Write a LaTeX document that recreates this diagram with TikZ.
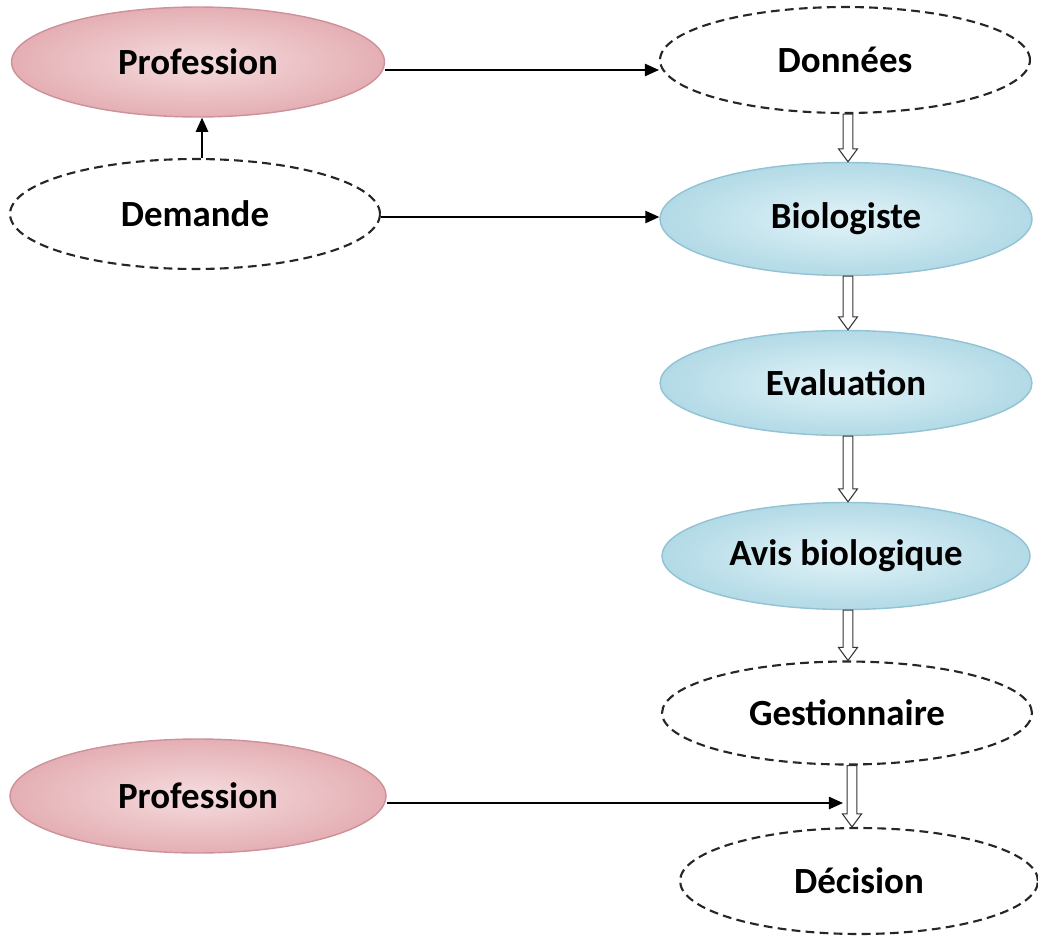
\documentclass[tikz,border=0pt]{standalone}
\usepackage{fontspec}
\setmainfont{Carlito}
\usetikzlibrary{shapes.geometric,arrows.meta,calc}
\definecolor{pinkin}{RGB}{245,220,222}
\definecolor{pinkout}{RGB}{228,175,180}
\definecolor{pinkrim}{RGB}{205,145,152}
\definecolor{bluein}{RGB}{226,243,248}
\definecolor{blueout}{RGB}{178,218,230}
\definecolor{bluerim}{RGB}{145,195,212}
\tikzset{
  lbl/.style={font=\fontsize{21}{24}\selectfont\bfseries, text=black},
  oval/.style={ellipse, inner sep=0pt, lbl},
  pinkoval/.style={oval, inner color=pinkin, outer color=pinkout, draw=pinkrim, line width=0.8pt},
  blueoval/.style={oval, inner color=bluein, outer color=blueout, draw=bluerim, line width=0.8pt},
  dashoval/.style={oval, draw=black!85, line width=1.2pt, dash pattern=on 5pt off 3pt},
  blackarrow/.style={draw=black, line width=0.9pt, -{Triangle[length=8pt,width=7pt]}},
  hollow/.style={draw=black!80, fill=white, line width=0.6pt}
}
% hollow down arrow from point #1 (top) to #2 (bottom y), x taken from #1
\newcommand{\hollowdown}[2]{%
  \path[hollow] let \p1=#1, \p2=#2 in
    ({\x1-0.096cm},\y1) -- ({\x1+0.096cm},\y1) -- ({\x1+0.096cm},{\y2+0.26cm})
    -- ({\x1+0.19cm},{\y2+0.26cm}) -- (\x1,\y2) -- ({\x1-0.19cm},{\y2+0.26cm})
    -- ({\x1-0.096cm},{\y2+0.26cm}) -- cycle;}
\begin{document}
\begin{tikzpicture}[x=0.02cm,y=-0.02cm]
\useasboundingbox (0,0) rectangle (1038,937);
\node[pinkoval, minimum width=7.46cm, minimum height=2.2cm] (prof1) at (198,62) {Profession};
\node[dashoval, minimum width=7.4cm, minimum height=2.12cm] (donn) at (845,60) {Données};
\node[dashoval, minimum width=7.4cm, minimum height=2.2cm] (dem) at (195,214) {Demande};
\node[blueoval, minimum width=7.44cm, minimum height=2.26cm] (bio) at (846,219) {Biologiste};
\node[blueoval, minimum width=7.44cm, minimum height=2.1cm] (eval) at (846,383) {Evaluation};
\node[blueoval, minimum width=7.36cm, minimum height=2.14cm] (avis) at (846,556) {Avis biologique};
\node[dashoval, minimum width=7.4cm, minimum height=2.06cm] (gest) at (847,713) {Gestionnaire};
\node[pinkoval, minimum width=7.52cm, minimum height=2.28cm] (prof2) at (198,796) {Profession};
\node[dashoval, minimum width=7.16cm, minimum height=2.12cm] (dec) at (859,881) {Décision};

% hollow arrows
\coordinate (h1a) at ($(donn.south)+(3,0)$);
\hollowdown{(h1a)}{(bio.north)}
\coordinate (h2a) at ($(bio.south)+(2,0)$);
\hollowdown{(h2a)}{(eval.north)}
\coordinate (h3a) at ($(eval.south)+(2,0)$);
\hollowdown{(h3a)}{(avis.north)}
\coordinate (h4a) at ($(avis.south)+(2,0)$);
\hollowdown{(h4a)}{(gest.north)}
\coordinate (h5a) at ($(gest.south)+(5,0)$);
\hollowdown{(h5a)}{(dec.north)}
\coordinate (h5in) at (843,803);

% black arrows
\draw[blackarrow] ($(prof1.east)+(0,8)$) -- ($(donn.west)+(0,10)$);
\draw[blackarrow] ($(dem.east)+(0,3)$) -- ($(bio.west)+(0,-2)$);
\draw[blackarrow] ($(dem.north)+(7,0)$) -- ($(prof1.south)+(4,0)$);
\draw[blackarrow] ($(prof2.east)+(0,7)$) -- (h5in);
\end{tikzpicture}
\end{document}
